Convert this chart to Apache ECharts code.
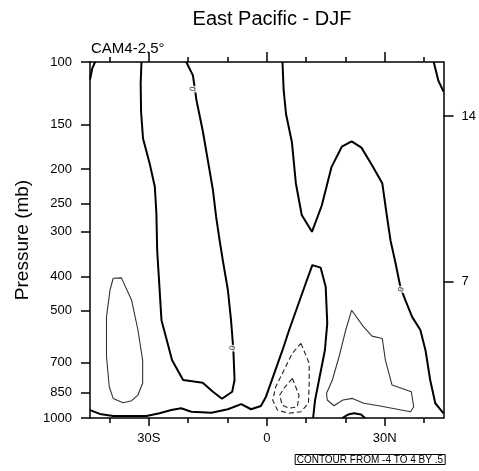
<!DOCTYPE html>
<html>
<head>
<meta charset="utf-8">
<title>East Pacific - DJF</title>
<script src="https://cdn.jsdelivr.net/npm/echarts@6/dist/echarts.min.js"></script>
<style>
body { margin: 0; background: #fff; }
#main { width: 479px; height: 471px; }
</style>
</head>
<body>
<div id="main"></div>
<script>
// axis ticks
var latMajor = [-30, 0, 30];
var latLabels = ['30S', '0', '30N'];
var latMinor = [-40, -20, -10, 10, 20, 40];
var presTicks = [100, 150, 200, 250, 300, 400, 500, 700, 850, 1000];
var hgtTickP = [413, 142];          // pressure where height = 7 km, 14 km
var hgtLabels = ['7', '14'];

// contour lines, points are [latitude, pressure mb]
// zero line, top-left corner
var zeroCornerL = [[-43.7, 100], [-44.4, 104], [-45, 112]];
// zero line, U shape south of equator
var zeroSouth = [[-31.9, 100], [-32.1, 115], [-32.0, 138], [-31.5, 164], [-29.8, 193], [-28.5, 224],
  [-28.1, 266], [-27.9, 338], [-26.8, 531], [-24.1, 688], [-21.3, 782], [-16.3, 796], [-13.7, 844],
  [-11.4, 883], [-8.8, 844], [-8.2, 782], [-8.5, 645], [-9.1, 531], [-9.9, 437], [-11.2, 360],
  [-12.0, 317], [-12.9, 272], [-13.7, 229], [-15.0, 189], [-16.3, 156], [-17.9, 128], [-18.8, 109],
  [-20.5, 100]];
// zero line, near surface and around the equatorial peak
var zeroLow = [[-45, 950], [-42.5, 974], [-39.1, 987], [-30.6, 987], [-27.3, 970], [-24.3, 950],
  [-21.8, 939], [-19.2, 960], [-14.1, 966], [-9.9, 945], [-6.5, 914], [-4.0, 945], [-1.5, 925],
  [-0.2, 871], [1.9, 749], [4.0, 645], [5.7, 566], [7.8, 487], [9.9, 419], [11.6, 372], [13.7, 378],
  [15.0, 428], [15.4, 542], [14.8, 645], [13.3, 782], [12.3, 890], [11.8, 1000]];
// zero line, north of equator
var zeroNorth = [[4.0, 100], [4.3, 120], [4.9, 140], [6.4, 168], [7.4, 219], [8.9, 269], [11.5, 300],
  [14.0, 253], [16.5, 197], [19.1, 173], [21.6, 167], [24.1, 174], [26.8, 195], [29.4, 219],
  [30.6, 272], [31.5, 317], [32.8, 368], [34.0, 428], [35.3, 467], [37.0, 520], [39.1, 566],
  [40.4, 645], [41.6, 782], [42.9, 909], [45, 970]];
// zero line, top-right corner
var zeroCornerR = [[42.5, 100], [43.7, 113], [45, 121]];
// zero line, small bump at the surface
var zeroBump = [[19.2, 1000], [20.7, 978], [22.2, 970], [24.0, 978], [25.0, 1000]];
// +0.5 contours
var posSouth = [[-39.1, 405], [-37.0, 404], [-34.4, 467], [-32.8, 566], [-31.6, 688], [-31.6, 799],
  [-32.8, 862], [-34.4, 894], [-36.6, 906], [-39.1, 881], [-40.1, 817], [-40.8, 673], [-40.8, 520],
  [-39.9, 437], [-39.1, 405]];
var posNorth = [[21.6, 498], [24.5, 552], [26.8, 589], [29.4, 598], [30.2, 688], [31.9, 808],
  [36.8, 844], [37.4, 930], [36.6, 960], [28.5, 924], [24.7, 909], [21.8, 881], [19.4, 890],
  [17.1, 924], [15.4, 890], [15.2, 853], [16.7, 782], [18.4, 673], [20.1, 566], [21.6, 498]];
// -0.5 and -1.0 contours
var negOuter = [[8.7, 617], [10.8, 702], [10.8, 799], [10.6, 909], [8.7, 960], [5.7, 970],
  [2.7, 950], [1.5, 890], [2.3, 817], [4.4, 733], [6.5, 658], [8.7, 617]];
var negInner = [[6.5, 774], [8.2, 862], [7.8, 930], [5.7, 939], [3.9, 920], [3.3, 862],
  [4.4, 825], [6.5, 774]];
// where the "0" line labels sit
var zeroLabelPts = [[-18.8, 119], [-8.7, 636], [34.2, 435]];

var font = 'Liberation Sans';
var black = '#000';

function contour(data, kind) {
  var ls = { color: black, width: 2 };
  if (kind == 'pos') ls = { color: '#333', width: 1.1 };
  if (kind == 'neg') ls = { color: '#222', width: 1.1, type: [5, 3] };
  return { type: 'line', data: data, symbol: 'none', silent: true, lineStyle: ls, z: 3 };
}

function xAx(pos, ticks, len, showLine, labels) {
  return {
    type: 'value', position: pos, min: -45, max: 45,
    axisLine: { show: showLine, onZero: false, lineStyle: { color: black, width: 1.5 } },
    axisTick: { show: true, customValues: ticks, length: len, lineStyle: { color: black, width: 1.5 } },
    axisLabel: labels ? {
      customValues: ticks, margin: 14, fontSize: 13, color: black, fontFamily: font,
      formatter: function (v) { return latLabels[latMajor.indexOf(v)]; }
    } : { show: false },
    splitLine: { show: false }
  };
}

var myChart = echarts.init(document.getElementById('main'));
var option = {
  animation: false,
  backgroundColor: '#fff',
  title: [
    { text: 'East Pacific - DJF', left: 267, top: 4, textAlign: 'center',
      textStyle: { fontFamily: font, fontSize: 20, fontWeight: 'normal', color: black } },
    { text: 'CAM4-2.5°', left: 86, top: 36,
      textStyle: { fontFamily: font, fontSize: 15, fontWeight: 'normal', color: black } },
    { text: 'CONTOUR FROM -4 TO 4 BY .5', right: 34, top: 454, padding: [1, 2, 0, 2],
      borderColor: black, borderWidth: 1,
      textStyle: { fontFamily: font, fontSize: 10, fontWeight: 'normal', color: black } }
  ],
  grid: { left: 90, right: 34, top: 62, bottom: 53 },
  xAxis: [
    xAx('bottom', latMajor, 8, true, true),
    xAx('bottom', latMinor, 5, false, false),
    xAx('top', latMajor, 10, true, false),
    xAx('top', latMinor, 5, false, false)
  ],
  yAxis: [
    {
      type: 'log', logBase: 10, min: 100, max: 1000, inverse: true, position: 'left',
      name: 'Pressure (mb)', nameLocation: 'middle', nameGap: 56, nameRotate: 90,
      nameTextStyle: { fontFamily: font, fontSize: 19, color: black },
      axisLine: { show: true, onZero: false, lineStyle: { color: black, width: 1.5 } },
      axisTick: { customValues: presTicks, length: 9, lineStyle: { color: black, width: 1.5 } },
      axisLabel: { customValues: presTicks, margin: 18, fontSize: 13, color: black, fontFamily: font,
        formatter: function (v) { return String(Math.round(v)); } },
      splitLine: { show: false }
    },
    {
      type: 'log', logBase: 10, min: 100, max: 1000, inverse: true, position: 'right',
      axisLine: { show: true, onZero: false, lineStyle: { color: black, width: 1.5 } },
      axisTick: { customValues: hgtTickP, length: 10, lineStyle: { color: black, width: 1.5 } },
      axisLabel: { customValues: hgtTickP, margin: 18, fontSize: 13, color: black, fontFamily: font,
        formatter: function (v) {
          for (var i = 0; i < hgtTickP.length; i++) {
            if (Math.abs(hgtTickP[i] - v) < 1) return hgtLabels[i];
          }
          return '';
        } },
      splitLine: { show: false }
    }
  ],
  series: [
    contour(zeroCornerL, 'zero'),
    contour(zeroSouth, 'zero'),
    contour(zeroLow, 'zero'),
    contour(zeroNorth, 'zero'),
    contour(zeroCornerR, 'zero'),
    contour(zeroBump, 'zero'),
    contour(posSouth, 'pos'),
    contour(posNorth, 'pos'),
    contour(negOuter, 'neg'),
    contour(negInner, 'neg'),
    {
      type: 'scatter', data: zeroLabelPts, symbolSize: 1, itemStyle: { color: 'rgba(0,0,0,0)' },
      z: 5, silent: true,
      label: { show: true, position: 'inside', formatter: '0', rotate: 80, fontSize: 8, color: black,
        fontFamily: font, backgroundColor: '#fff', padding: [0, 1] }
    }
  ]
};
myChart.setOption(option);
</script>
</body>
</html>
